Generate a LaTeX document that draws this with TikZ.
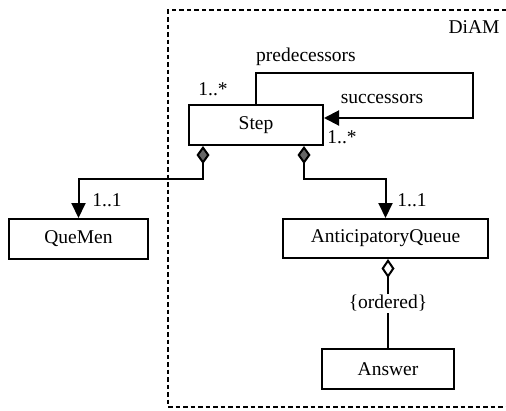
\documentclass[tikz,border=0pt]{standalone}
\usepackage{fontspec}
\setmainfont{Liberation Serif}
\usetikzlibrary{arrows.meta}

\begin{document}
\begin{tikzpicture}[x=1pt,y=-1pt,
  font=\fontsize{19.5}{23}\selectfont,
  cls/.style={draw,line width=2pt,minimum height=40pt,inner sep=0pt},
  link/.style={line width=2pt},
  composite/.style={link,{Diamond[length=18pt,width=13pt,fill=black!60]}-{Triangle[length=15pt,width=14pt]}},
  aggregate/.style={link,{Diamond[open,length=19pt,width=13pt]}-},
  assoc/.style={link,-{Triangle[length=15pt,width=15pt]}},
  frame/.style={line width=2.6pt,dash pattern=on 4.5pt off 3pt}]
  \useasboundingbox (0,0) rectangle (506,410);
  % package frame
  \draw[frame] (506,10) -- (168,10) -- (168,407) -- (506,407);
  \node[anchor=east] (diam) at (503,27) {DiAM};
  % classes
  \node[cls,minimum width=134pt] (step) at (256,125) {Step};
  \node[cls,minimum width=139pt] (quemen) at (78.5,239) {QueMen};
  \node[cls,minimum width=205pt,minimum height=39pt] (antqueue) at (385.5,238.5) {AnticipatoryQueue};
  \node[cls,minimum width=132pt] (answer) at (388,369) {Answer};
  % self association
  \coordinate (loop) at (473,73);
  \draw[assoc] (step.north) |- (loop) |- ([yshift=7pt]step.east);
  \node (pred) at (306,57) {predecessors};
  \node (succ) at (382,99) {successors};
  \node (mpred) at (213,89) {1..*};
  \node (msucc) at (342,137) {1..*};
  % compositions
  \draw[composite] ([xshift=-53pt]step.south) -- ++(0,33) -| (quemen.north);
  \draw[composite] ([xshift=48pt]step.south) -- ++(0,33) -| (antqueue.north);
  \node (mque) at (107,200) {1..1};
  \node (mant) at (412,200) {1..1};
  % aggregation
  \draw[aggregate] (answer.north |- antqueue.south) --
    node[fill=white,inner sep=1pt] (ord) {\{ordered\}} (answer.north);
\end{tikzpicture}
\end{document}
